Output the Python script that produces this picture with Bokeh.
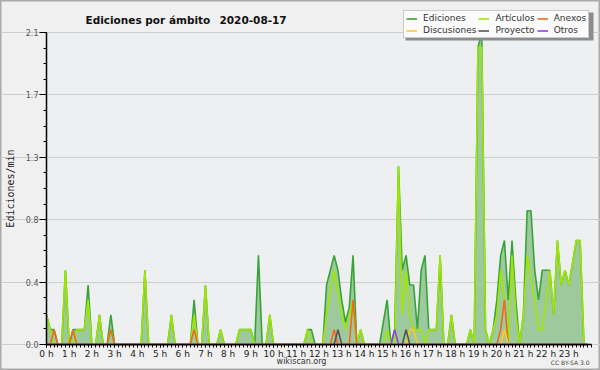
import math
from bokeh.plotting import figure
from bokeh.models import (Range1d, FixedTicker, PrintfTickFormatter, Label, Legend,
                          LegendItem, ColumnDataSource, BoxAnnotation)
from bokeh.embed import file_html
from bokeh.resources import INLINE

# ---------------- data (edits per minute, one value every 10 minutes) ----------------
STEP_MIN = 10
N = 144

ediciones = [
    0.2, 0.1, 0.1, 0, 0, 0.5, 0, 0.1, 0.1, 0.1, 0.1, 0.4,
    0, 0, 0.2, 0, 0, 0.2, 0, 0, 0, 0, 0, 0,
    0, 0, 0.5, 0, 0, 0, 0, 0, 0, 0.2, 0, 0,
    0, 0, 0, 0.3, 0, 0, 0.4, 0, 0, 0, 0.1, 0,
    0, 0, 0, 0.1, 0.1, 0.1, 0.1, 0, 0.6, 0, 0, 0.2,
    0, 0, 0, 0, 0, 0, 0, 0, 0, 0.1, 0.1, 0,
    0, 0, 0.4, 0.5, 0.6, 0.5, 0.3, 0.15, 0.25, 0.6, 0, 0.1,
    0, 0, 0, 0, 0, 0.15, 0.3, 0, 0.1, 1.2, 0.5, 0.6,
    0.4, 0.4, 0.1, 0.5, 0.6, 0.1, 0.1, 0.1, 0.6, 0, 0, 0.2,
    0, 0, 0, 0, 0.1, 0, 2.0, 2.1, 0.1, 0, 0.1, 0.3,
    0.6, 0.7, 0.3, 0.7, 0.3, 0, 0.2, 0.9, 0.9, 0.5, 0.3, 0.5,
    0.5, 0.5, 0.2, 0.7, 0.4, 0.5, 0.4, 0.55, 0.7, 0.7, 0, 0,
]
articulos = [
    0.2, 0.1, 0, 0, 0, 0.5, 0, 0, 0.1, 0.1, 0.1, 0.3,
    0, 0, 0.2, 0, 0, 0.1, 0, 0, 0, 0, 0, 0,
    0, 0, 0.5, 0, 0, 0, 0, 0, 0, 0.2, 0, 0,
    0, 0, 0, 0.2, 0, 0, 0.4, 0, 0, 0, 0.1, 0,
    0, 0, 0, 0.1, 0.1, 0.1, 0.1, 0, 0, 0, 0, 0.2,
    0, 0, 0, 0, 0, 0, 0, 0, 0, 0.1, 0, 0,
    0, 0, 0.2, 0.35, 0.5, 0.35, 0.2, 0.1, 0.2, 0.3, 0, 0.1,
    0, 0, 0, 0, 0, 0, 0.1, 0, 0, 1.2, 0.2, 0.5,
    0.2, 0.1, 0.1, 0.1, 0, 0.1, 0.1, 0.1, 0.6, 0, 0, 0.2,
    0, 0, 0, 0, 0.1, 0, 2.0, 2.0, 0.1, 0, 0.1, 0.2,
    0.5, 0.3, 0, 0.6, 0.2, 0, 0.2, 0.6, 0.45, 0.3, 0.1, 0.1,
    0.3, 0.5, 0.2, 0.7, 0.4, 0.5, 0.4, 0.55, 0.7, 0.7, 0, 0,
]
anexos = [
    0, 0, 0.1, 0, 0, 0, 0, 0.1, 0, 0, 0, 0,
    0, 0, 0, 0, 0, 0.1, 0, 0, 0, 0, 0, 0,
    0, 0, 0, 0, 0, 0, 0, 0, 0, 0, 0, 0,
    0, 0, 0, 0.1, 0, 0, 0, 0, 0, 0, 0, 0,
    0, 0, 0, 0, 0, 0, 0, 0, 0, 0, 0, 0,
    0, 0, 0, 0, 0, 0, 0, 0, 0, 0, 0, 0,
    0, 0, 0, 0, 0.1, 0, 0, 0, 0, 0.3, 0, 0,
    0, 0, 0, 0, 0, 0, 0, 0, 0, 0, 0, 0,
    0, 0, 0, 0, 0, 0, 0, 0, 0, 0, 0, 0,
    0, 0, 0, 0, 0, 0, 0, 0, 0, 0, 0, 0,
    0.1, 0.3, 0, 0, 0, 0, 0, 0, 0, 0, 0, 0,
    0, 0, 0, 0, 0, 0, 0, 0, 0, 0, 0, 0,
]
discusiones = [0] * 96 + [0.1, 0.1] + [0] * 23 + [0.1] + [0] * 22
proyecto = [0] * 77 + [0.1] + [0] * 17 + [0.1] + [0] * 48
otros = [0] * 92 + [0.1] + [0] * 51

SERIES = [
    ("Ediciones", "ed", "#37a437"),
    ("Artículos", "art", "#9fe600"),
    ("Anexos", "anx", "#f06a1e"),
    ("Discusiones", "dis", "#ffc926"),
    ("Proyecto", "pro", "#555555"),
    ("Otros", "otr", "#9a3cf0"),
]

Y_MAX = 2.1
Y_TICKS = [0, 0.42, 0.84, 1.26, 1.68, 2.1]
Y_MINOR = [k * 0.105 for k in range(21)]
X_TICKS = list(range(24))
X_MINOR = [k * STEP_MIN / 60 for k in range(N + 1)]

TITLE = "Ediciones por ámbito"
DATE = "2020-08-17"

# ---------------- layout constants (pixels) ----------------
W, H = 600, 370
PLOT_L, PLOT_R, PLOT_T, PLOT_B = 46, 591, 32, 344
PX_PER_H = (PLOT_R - PLOT_L) / 24
PX_PER_V = (PLOT_B - PLOT_T) / Y_MAX

hours = [i * STEP_MIN / 60 for i in range(N)]
src = ColumnDataSource(dict(h=hours, ed=ediciones, art=articulos, anx=anexos,
                            dis=discusiones, pro=proyecto, otr=otros))

p = figure(width=W, height=H, output_backend="svg", toolbar_location=None,
           x_range=Range1d(-PLOT_L / PX_PER_H, (W - PLOT_L) / PX_PER_H),
           y_range=Range1d(-(H - PLOT_B) / PX_PER_V, PLOT_B / PX_PER_V),
           min_border=0, min_border_left=0, min_border_right=0,
           min_border_top=0, min_border_bottom=0)
p.background_fill_color = "#f0f0f0"
p.border_fill_color = "#f0f0f0"
p.outline_line_color = "#a9a9a9"
p.outline_line_width = 2

# plot area background
p.add_layout(BoxAnnotation(left=0, right=24, bottom=0, top=Y_MAX, fill_color="#eeeff1",
                           fill_alpha=1, line_color=None, level="image"))

# grid
p.xgrid.visible = False
p.ygrid.ticker = FixedTicker(ticks=Y_TICKS)
p.ygrid.grid_line_color = "#cdcdcd"
p.ygrid.grid_line_width = 1

# area + lines
p.varea(x="h", y1=0, y2="ed", source=src, fill_color="#9ec99e", fill_alpha=1)
renderers = []
for name, col, color in SERIES:
    r = p.line(x="h", y=col, source=src, line_color=color, line_width=1.6)
    renderers.append((name, r))

# axes
xa = p.xaxis[0]
xa.ticker = FixedTicker(ticks=X_TICKS, minor_ticks=X_MINOR)
xa.formatter = PrintfTickFormatter(format="%d h")
xa.fixed_location = 0
xa.bounds = (0, 24)
ya = p.yaxis[0]
ya.ticker = FixedTicker(ticks=Y_TICKS, minor_ticks=Y_MINOR)
ya.formatter = PrintfTickFormatter(format="%.1f")
ya.fixed_location = 0
ya.bounds = (0, Y_MAX)
for ax in (xa, ya):
    ax.axis_line_color = "black"
    ax.axis_line_width = 1.5
    ax.major_tick_line_color = "black"
    ax.minor_tick_line_color = "black"
    ax.major_tick_in = 0
    ax.minor_tick_in = 0
    ax.major_label_text_font = "DejaVu Sans"
xa.major_tick_out = 3
xa.minor_tick_out = 3
xa.major_label_text_font_size = "9px"
xa.major_label_text_color = "#222222"
xa.major_label_standoff = 1
ya.major_tick_out = 7
ya.minor_tick_out = 3
ya.major_label_text_font_size = "8px"
ya.major_label_text_color = "#555555"
ya.major_label_standoff = 1

# legend shadow + legend
p.add_layout(BoxAnnotation(left=405, right=593, top=H - 12, bottom=H - 40,
                           left_units="screen", right_units="screen",
                           top_units="screen", bottom_units="screen",
                           fill_color="#8c8c8c", fill_alpha=1, line_color=None))
items = [LegendItem(label=n, renderers=[r]) for n, r in renderers]
legend = Legend(items=items, location=(403, H - 38), orientation="horizontal", ncols=3,
                label_text_font="DejaVu Sans", label_text_font_size="9px",
                label_text_color="#333333", label_text_line_height=1.0,
                glyph_width=11, glyph_height=9, label_height=9, label_standoff=6,
                spacing=2, padding=2, margin=0,
                border_line_color="#9a9a9a", border_line_width=1,
                background_fill_color="#fbfbfb", background_fill_alpha=1)
p.add_layout(legend)

# texts (screen units: x from left, y from bottom)
p.add_layout(Label(x=85, y=H - 19, x_units="screen", y_units="screen", text=TITLE,
                   text_font="DejaVu Sans", text_font_style="bold", text_font_size="10.5px",
                   text_color="#111111", text_baseline="alphabetic"))
p.add_layout(Label(x=219, y=H - 19, x_units="screen", y_units="screen", text=DATE,
                   text_font="DejaVu Sans", text_font_style="bold", text_font_size="10.5px",
                   text_color="#111111", text_baseline="alphabetic"))
p.add_layout(Label(x=10, y=H - 188, x_units="screen", y_units="screen", text="Ediciones/min",
                   angle=math.pi / 2, text_font="DejaVu Sans Mono", text_font_size="10px",
                   text_color="#222222", text_align="center", text_baseline="middle"))
p.add_layout(Label(x=301, y=H - 361, x_units="screen", y_units="screen", text="wikiscan.org",
                   text_font="DejaVu Sans", text_font_size="8px", text_color="#333333",
                   text_align="center", text_baseline="middle"))
p.add_layout(Label(x=589, y=H - 362, x_units="screen", y_units="screen", text="CC BY-SA 3.0",
                   text_font="DejaVu Sans", text_font_size="6px", text_color="#444444",
                   text_align="right", text_baseline="middle"))

open("out.html", "w").write(file_html(p, INLINE))
